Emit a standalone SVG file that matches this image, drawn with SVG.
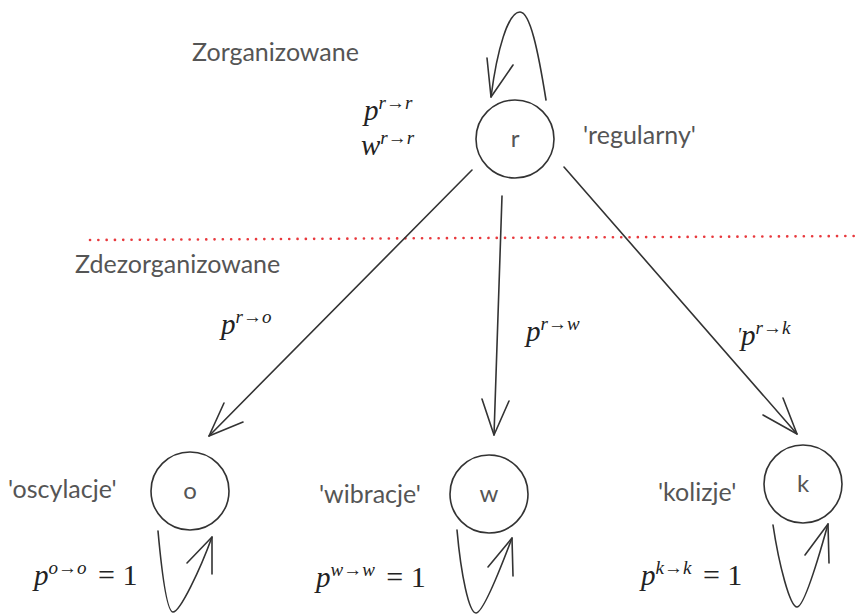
<svg xmlns="http://www.w3.org/2000/svg" width="860" height="614" viewBox="0 0 860 614">
<style>
.node{fill:#fff;stroke:#333;stroke-width:1.6}
.edge{fill:none;stroke:#333;stroke-width:1.6;stroke-linecap:round;stroke-linejoin:round}
.lbl{font-family:Lato,"Open Sans",sans-serif;font-size:25px;fill:#555}
.nl{font-family:Lato,"Open Sans",sans-serif;font-size:24px;fill:#555;text-anchor:middle}
.m{font-family:"Liberation Serif","DejaVu Serif",serif;font-style:italic;fill:#222}
.mb{font-size:29px}
.ms{font-size:19px}
.up{font-family:"Liberation Serif","DejaVu Serif",serif;font-style:normal;font-size:30px;fill:#222}
</style>
<rect width="860" height="614" fill="#fff"/>
<line x1="90" y1="240" x2="858" y2="236" stroke="#e8393d" stroke-width="2.6" stroke-linecap="round" stroke-dasharray="0.1 8.2"/>
<g id="connectors">
<path class="edge" d="M546,100 C538,50 530,12 520,12 C508,12 497,50 491,97"/>
<path class="edge" d="M487,58 L491,97 L513,65"/>
<path class="edge" d="M472,170 L209,436"/>
<path class="edge" d="M224,403 L209,436 L243,422"/>
<path class="edge" d="M502,196 L494,435"/>
<path class="edge" d="M482,399 L494,435 L509,401"/>
<path class="edge" d="M564,167 L797,434"/>
<path class="edge" d="M783,398 L797,434 L763,415"/>
<path class="edge" d="M158,531 C162,575 167,612 173,612 C180,612 200,570 212,537"/>
<path class="edge" d="M187,563 L212,537 L212,574"/>
<path class="edge" d="M457,530 C461,575 469,613 476,613 C483,613 500,570 512,538"/>
<path class="edge" d="M488,567 L512,538 L513,576"/>
<path class="edge" d="M773,525 C779,565 790,607 797,607 C804,607 818,560 828,524"/>
<path class="edge" d="M805,555 L828,524 L829,563"/>
</g>
<g id="node-r">
<circle class="node" cx="515" cy="139" r="39"/>
<text class="nl" x="515" y="147">r</text>
</g>
<g id="node-o">
<circle class="node" cx="190" cy="491" r="39"/>
<text class="nl" x="190" y="499">o</text>
</g>
<g id="node-w">
<circle class="node" cx="489" cy="494" r="39"/>
<text class="nl" x="489" y="502">w</text>
</g>
<g id="node-k">
<circle class="node" cx="803" cy="484" r="39"/>
<text class="nl" x="803" y="492">k</text>
</g>
<g id="labels">
<text class="lbl" x="192" y="61">Zorganizowane</text>
<text class="lbl" x="75" y="273">Zdezorganizowane</text>
<text class="lbl" x="583" y="144">'regularny'</text>
<text class="lbl" x="8" y="498">'oscylacje'</text>
<text class="lbl" x="319" y="503">'wibracje'</text>
<text class="lbl" x="658" y="501">'kolizje'</text>
<text class="m" x="364" y="120"><tspan class="mb">p</tspan><tspan class="ms" dy="-11">r→r</tspan></text>
<text class="m" x="361" y="155"><tspan class="mb">w</tspan><tspan class="ms" dy="-11">r→r</tspan></text>
<text class="m" x="221" y="334"><tspan class="mb">p</tspan><tspan class="ms" dy="-11">r→o</tspan></text>
<text class="m" x="526" y="341"><tspan class="mb">p</tspan><tspan class="ms" dy="-11">r→w</tspan></text>
<text class="m" x="737" y="345"><tspan class="ms" dy="-4">'</tspan><tspan class="mb" dy="4">p</tspan><tspan class="ms" dy="-11">r→k</tspan></text>
<text class="m" x="34" y="585"><tspan class="mb">p</tspan><tspan class="ms" dy="-11">o→o</tspan><tspan class="up" dx="4" dy="11"> = 1</tspan></text>
<text class="m" x="316" y="587"><tspan class="mb">p</tspan><tspan class="ms" dy="-11">w→w</tspan><tspan class="up" dx="4" dy="11"> = 1</tspan></text>
<text class="m" x="641" y="585"><tspan class="mb">p</tspan><tspan class="ms" dy="-11">k→k</tspan><tspan class="up" dx="4" dy="11"> = 1</tspan></text>
</g>
</svg>
